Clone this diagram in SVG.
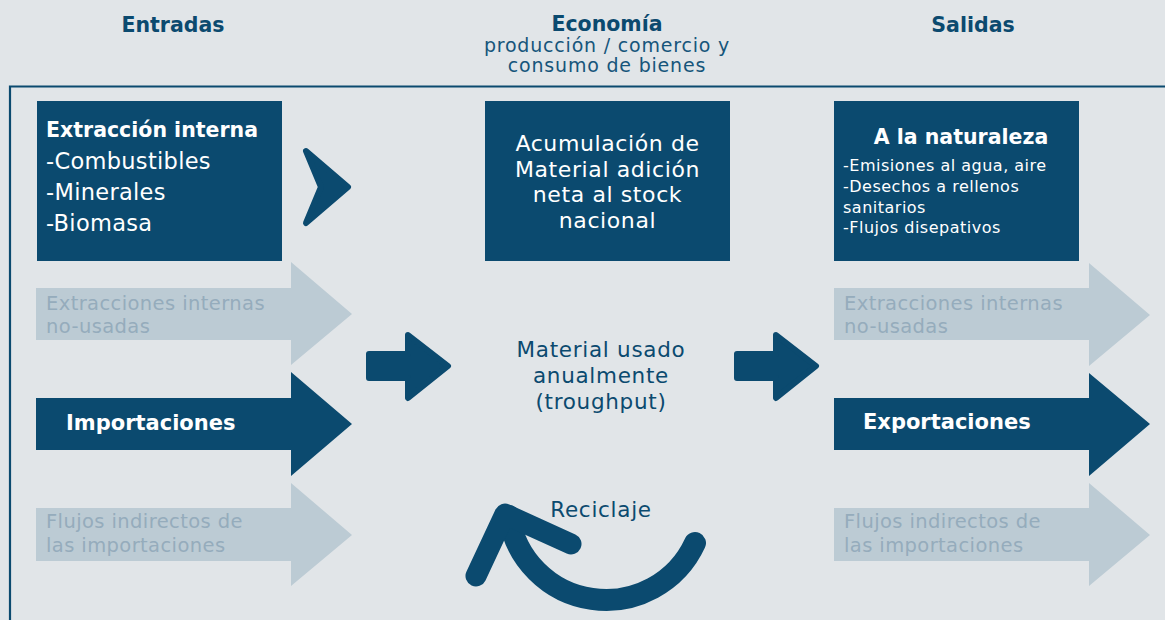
<svg xmlns="http://www.w3.org/2000/svg" width="1165" height="620" viewBox="0 0 1165 620">
<style>
text{font-family:"DejaVu Sans","Liberation Sans",sans-serif}
.hd{font-weight:bold;font-size:20.5px;fill:#0b4a6f;text-anchor:middle}
.sub{font-size:19px;fill:#16557b;text-anchor:middle;letter-spacing:0.8px}
.dark{fill:#0b4a6f}
.light{fill:#bccbd4}
.lt{font-size:19.5px;fill:#95acbc;letter-spacing:0.4px}
.wt{fill:#ffffff}
.bold{font-weight:bold}
.rnd{fill:#0b4a6f;stroke:#0b4a6f;stroke-width:6;stroke-linejoin:round}
.mid{font-size:21.5px;fill:#0b4a6f;text-anchor:middle;letter-spacing:0.7px}
.acc{font-size:22px;fill:#ffffff;text-anchor:middle;letter-spacing:0.6px}
.nat{font-size:16px;fill:#ffffff;letter-spacing:0.5px}
.ext{font-size:22.5px;fill:#ffffff;letter-spacing:0.3px}
</style>
<rect width="1165" height="620" fill="#e1e5e8"/>
<path d="M10 620V86.5H1165" fill="none" stroke="#0b4a6f" stroke-width="2.2"/>
<g id="headers">
<text class="hd" x="173" y="32">Entradas</text>
<text class="hd" x="607" y="31">Economía</text>
<text class="sub" x="607" y="52">producción / comercio y</text>
<text class="sub" x="607" y="72">consumo de bienes</text>
<text class="hd" x="973" y="32">Salidas</text>
</g>
<g id="extraccion">
<rect class="dark" x="37" y="101" width="245" height="160"/>
<text class="wt bold" x="46" y="137" font-size="20.5">Extracción interna</text>
<text class="ext" x="46" y="169">-Combustibles</text>
<text class="ext" x="46" y="200">-Minerales</text>
<text class="ext" x="46" y="231">-Biomasa</text>
</g>
<g id="acumulacion">
<rect class="dark" x="485" y="101" width="245" height="160"/>
<text class="acc" x="607.5" y="151">Acumulación de</text>
<text class="acc" x="607.5" y="177">Material adición</text>
<text class="acc" x="607.5" y="202">neta al stock</text>
<text class="acc" x="607.5" y="228">nacional</text>
</g>
<g id="naturaleza">
<rect class="dark" x="834" y="101" width="245" height="160"/>
<text class="wt bold" x="961" y="144" font-size="20.5" text-anchor="middle">A la naturaleza</text>
<text class="nat" x="843" y="171">-Emisiones al agua, aire</text>
<text class="nat" x="843" y="192">-Desechos a rellenos</text>
<text class="nat" x="843" y="213">sanitarios</text>
<text class="nat" x="843" y="233">-Flujos disepativos</text>
</g>
<g id="in-no-usadas">
<polygon class="light" points="36,288 291,288 291,262 352,314 291,365 291,340 36,340"/>
<text class="lt" x="46" y="310">Extracciones internas</text>
<text class="lt" x="46" y="333">no-usadas</text>
</g>
<g id="importaciones">
<polygon class="dark" points="36,398 291,398 291,372 352,424 291,476 291,450 36,450"/>
<text class="wt bold" x="66" y="430" font-size="21">Importaciones</text>
</g>
<g id="in-indirectos">
<polygon class="light" points="36,508 291,508 291,483 352,535 291,586 291,561 36,561"/>
<text class="lt" x="46" y="528">Flujos indirectos de</text>
<text class="lt" x="46" y="552">las importaciones</text>
</g>
<g id="out-no-usadas">
<polygon class="light" points="834,288 1089,288 1089,263 1150,315 1089,366 1089,340 834,340"/>
<text class="lt" x="844" y="310">Extracciones internas</text>
<text class="lt" x="844" y="333">no-usadas</text>
</g>
<g id="exportaciones">
<polygon class="dark" points="834,398 1089,398 1089,373 1150,424 1089,476 1089,450 834,450"/>
<text class="wt bold" x="863" y="429" font-size="21">Exportaciones</text>
</g>
<g id="out-indirectos">
<polygon class="light" points="834,508 1089,508 1089,483 1150,535 1089,586 1089,561 834,561"/>
<text class="lt" x="844" y="528">Flujos indirectos de</text>
<text class="lt" x="844" y="552">las importaciones</text>
</g>
<g id="throughput">
<text class="mid" x="601" y="357">Material usado</text>
<text class="mid" x="601" y="383">anualmente</text>
<text class="mid" x="601" y="409">(troughput)</text>
</g>
<g id="reciclaje">
<text class="mid" x="601" y="517" fill="#1d5a7e">Reciclaje</text>
</g>
<g id="connectors">
<polygon class="rnd" points="306,151 348,187 306,223 321,187"/>
<polygon class="rnd" points="369,354 408,354 408,335 448,366 408,398 408,378 369,378"/>
<polygon class="rnd" points="737,354 776,354 776,335 816,366 776,398 776,378 737,378"/>
<path d="M695 543A98 98 0 0 1 509 516" fill="none" stroke="#0b4a6f" stroke-width="22" stroke-linecap="round"/>
<polyline points="476,576 505,514 571,544" fill="none" stroke="#0b4a6f" stroke-width="21" stroke-linecap="round" stroke-linejoin="round"/>
</g>
</svg>
